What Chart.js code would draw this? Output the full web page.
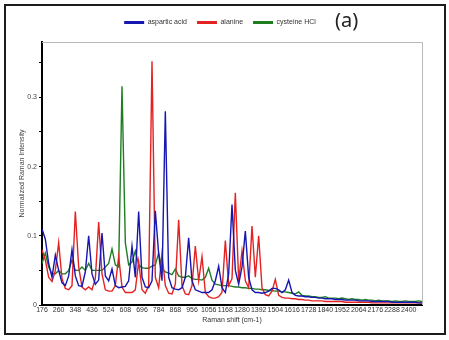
<!DOCTYPE html>
<html>
<head>
<meta charset="utf-8">
<script src="https://cdn.jsdelivr.net/npm/chart.js@4/dist/chart.umd.min.js"></script>
<style>
  html, body { margin: 0; padding: 0; background: #fff; }
  #wrap { position: relative; width: 449px; height: 340px; }
  #frame {
    position: absolute; left: 4px; top: 4px; width: 442px; height: 331px;
    box-sizing: border-box; border: 2px solid #1c1c1c; pointer-events: none;
  }
</style>
</head>
<body>
<div id="wrap">
  <canvas id="ramanChart" width="449" height="340"></canvas>
  <div id="frame"></div>
</div>
<script>
// x tick labels (Raman shift, cm-1), one every 5 sampled points
const shiftTicks = [
  "176", "260", "348", "436", "524", "608", "696", "784", "868", "956",
  "1056", "1168", "1280", "1392", "1504", "1616", "1728", "1840", "1952",
  "2064", "2176", "2288", "2400",
];
const pointsPerTick = 5;

const yTickValues = [0, 0.05, 0.1, 0.15, 0.2, 0.25, 0.3, 0.35];
const yTickLabels = ["0", "", "0.1", "", "0.2", "", "0.3", ""];

const seriesNames = ["aspartic acid", "alanine", "cysteine HCl"];

const asparticAcid = [
  0.110, 0.095, 0.060, 0.040, 0.072, 0.050, 0.032, 0.028, 0.042, 0.080,
  0.042, 0.028, 0.027, 0.048, 0.100, 0.045, 0.030, 0.036, 0.104, 0.042,
  0.035, 0.052, 0.028, 0.025, 0.026, 0.027, 0.035, 0.085, 0.040, 0.135,
  0.040, 0.026, 0.025, 0.035, 0.136, 0.074, 0.035, 0.280, 0.040, 0.025,
  0.023, 0.022, 0.025, 0.040, 0.097, 0.035, 0.022, 0.020, 0.018, 0.018,
  0.018, 0.022, 0.035, 0.056, 0.025, 0.018, 0.045, 0.145, 0.050, 0.030,
  0.055, 0.107, 0.040, 0.022, 0.018, 0.018, 0.017, 0.018, 0.020, 0.024,
  0.024, 0.022, 0.018, 0.022, 0.036, 0.018, 0.014, 0.013,
  0.013, 0.012, 0.012, 0.011, 0.011, 0.010, 0.010, 0.009, 0.009, 0.009,
  0.008, 0.008, 0.008, 0.007, 0.007, 0.007, 0.007, 0.006, 0.006, 0.006,
  0.006, 0.005, 0.005, 0.005, 0.005, 0.005, 0.005, 0.004, 0.004, 0.004,
  0.004, 0.004, 0.004, 0.004, 0.004, 0.003, 0.003,
];

const alanine = [
  0.080, 0.065, 0.040, 0.034, 0.050, 0.090, 0.038, 0.024, 0.022, 0.028,
  0.135, 0.055, 0.026, 0.022, 0.026, 0.022, 0.038, 0.120, 0.045, 0.022,
  0.020, 0.020, 0.028, 0.070, 0.026, 0.018, 0.018, 0.018, 0.022, 0.063,
  0.022, 0.017, 0.028, 0.352, 0.040, 0.025, 0.074, 0.028, 0.017, 0.016,
  0.030, 0.123, 0.028, 0.016, 0.015, 0.028, 0.085, 0.035, 0.070, 0.018,
  0.012, 0.010, 0.010, 0.012, 0.018, 0.093, 0.028, 0.038, 0.162, 0.035,
  0.078, 0.035, 0.025, 0.114, 0.040, 0.100, 0.025, 0.015, 0.013, 0.020,
  0.037, 0.014, 0.011, 0.010, 0.010, 0.009, 0.009, 0.008,
  0.008, 0.007, 0.007, 0.006, 0.006, 0.006, 0.006, 0.005, 0.005, 0.005,
  0.005, 0.005, 0.005, 0.004, 0.004, 0.004, 0.004, 0.004, 0.004, 0.004,
  0.004, 0.003, 0.003, 0.003, 0.003, 0.003, 0.003, 0.003, 0.003, 0.003,
  0.003, 0.003, 0.003, 0.003, 0.003, 0.003, 0.003,
];

const cysteineHCl = [
  0.060, 0.075, 0.055, 0.045, 0.045, 0.050, 0.045, 0.045, 0.050, 0.065,
  0.050, 0.050, 0.055, 0.050, 0.060, 0.050, 0.050, 0.050, 0.050, 0.055,
  0.060, 0.081, 0.058, 0.055, 0.316, 0.090, 0.058, 0.062, 0.078, 0.058,
  0.054, 0.053, 0.053, 0.056, 0.058, 0.075, 0.052, 0.048, 0.046, 0.044,
  0.052, 0.042, 0.040, 0.040, 0.042, 0.038, 0.037, 0.037, 0.036, 0.040,
  0.053, 0.036, 0.030, 0.029, 0.028, 0.028, 0.028, 0.027, 0.026, 0.026,
  0.025, 0.025, 0.024, 0.024, 0.023, 0.023, 0.022, 0.022, 0.021, 0.021,
  0.020, 0.020, 0.019, 0.019, 0.018, 0.017, 0.016, 0.019,
  0.014, 0.013, 0.013, 0.012, 0.012, 0.011, 0.011, 0.012, 0.010, 0.010,
  0.010, 0.009, 0.010, 0.009, 0.008, 0.009, 0.008, 0.008, 0.007, 0.008,
  0.007, 0.007, 0.006, 0.007, 0.006, 0.006, 0.006, 0.005, 0.006, 0.005,
  0.005, 0.006, 0.005, 0.005, 0.005, 0.006, 0.005,
];

// sample positions along the (evenly spaced) x axis
const sampleIndex = asparticAcid.map((_, i) => i);

const tickFont = { family: "Liberation Sans, Arial, sans-serif", size: 7 };

const framePlugin = {
  id: "frame",
  beforeInit(chart) {
    // extra room between legend and plot
    const fitLegend = chart.legend.fit;
    chart.legend.fit = function () {
      fitLegend.call(this);
      this.height += 6;
    };
  },
  afterDraw(chart) {
    const { ctx, chartArea: a } = chart;
    ctx.save();
    ctx.strokeStyle = "#b8b8b8";
    ctx.lineWidth = 1;
    ctx.beginPath();
    ctx.moveTo(a.left, a.top + 0.5);
    ctx.lineTo(a.right + 0.5, a.top + 0.5);
    ctx.lineTo(a.right + 0.5, a.bottom);
    ctx.stroke();
    ctx.fillStyle = "#222";
    ctx.font = "20px Noto Sans, Open Sans, sans-serif";
    ctx.textBaseline = "middle";
    ctx.fillText("(a)", 335, 21);
    ctx.restore();
  },
};

const ctx = document.getElementById("ramanChart").getContext("2d");

const ramanChart = new Chart(ctx, {
  type: "line",
  data: {
    labels: sampleIndex,
    datasets: [
      { label: seriesNames[0], data: asparticAcid, borderColor: "#1616b0" },
      { label: seriesNames[1], data: alanine, borderColor: "#e42222" },
      { label: seriesNames[2], data: cysteineHCl, borderColor: "#1f7d22" },
    ].map((d) => ({
      ...d,
      backgroundColor: d.borderColor,
      borderWidth: 1.4,
      pointRadius: 0,
      tension: 0,
      fill: false,
    })),
  },
  options: {
    responsive: false,
    animation: false,
    layout: { padding: { left: 18, right: 27, top: 9, bottom: 16 } },
    plugins: {
      legend: {
        display: true,
        position: "top",
        labels: {
          color: "#333",
          font: tickFont,
          usePointStyle: true,
          pointStyleWidth: 20,
          padding: 10,
          generateLabels(chart) {
            return Chart.defaults.plugins.legend.labels
              .generateLabels(chart)
              .map((l) => ({ ...l, pointStyle: "line", lineWidth: 3 }));
          },
        },
      },
      tooltip: { enabled: false },
    },
    scales: {
      x: {
        type: "linear",
        min: 0,
        max: asparticAcid.length - 1,
        afterBuildTicks(axis) {
          axis.ticks = shiftTicks.map((_, k) => ({ value: k * pointsPerTick }));
        },
        afterFit(scale) {
          scale.height = 19;
        },
        grid: { display: false, drawTicks: false },
        border: { color: "#000", width: 2 },
        ticks: {
          color: "#333",
          font: tickFont,
          padding: 1,
          maxRotation: 0,
          autoSkip: false,
          callback: (v) => shiftTicks[Math.round(v / pointsPerTick)],
        },
        title: {
          display: true,
          text: "Raman shift (cm-1)",
          color: "#333",
          font: tickFont,
          padding: { top: 1, bottom: 0 },
        },
      },
      y: {
        min: 0,
        max: 0.38,
        afterBuildTicks(axis) {
          axis.ticks = yTickValues.map((v) => ({ value: v }));
        },
        afterFit(scale) {
          scale.width = 24;
        },
        grid: {
          drawOnChartArea: false,
          drawTicks: true,
          tickLength: 3,
          color: "#000",
        },
        border: { color: "#000", width: 2 },
        ticks: {
          color: "#444",
          font: tickFont,
          padding: 2,
          callback: (v) => yTickLabels[yTickValues.indexOf(v)],
        },
        title: {
          display: true,
          text: "Normalized Raman Intensity",
          color: "#444",
          font: tickFont,
          padding: { top: 0, bottom: 4 },
        },
      },
    },
  },
  plugins: [framePlugin],
});
</script>
</body>
</html>
